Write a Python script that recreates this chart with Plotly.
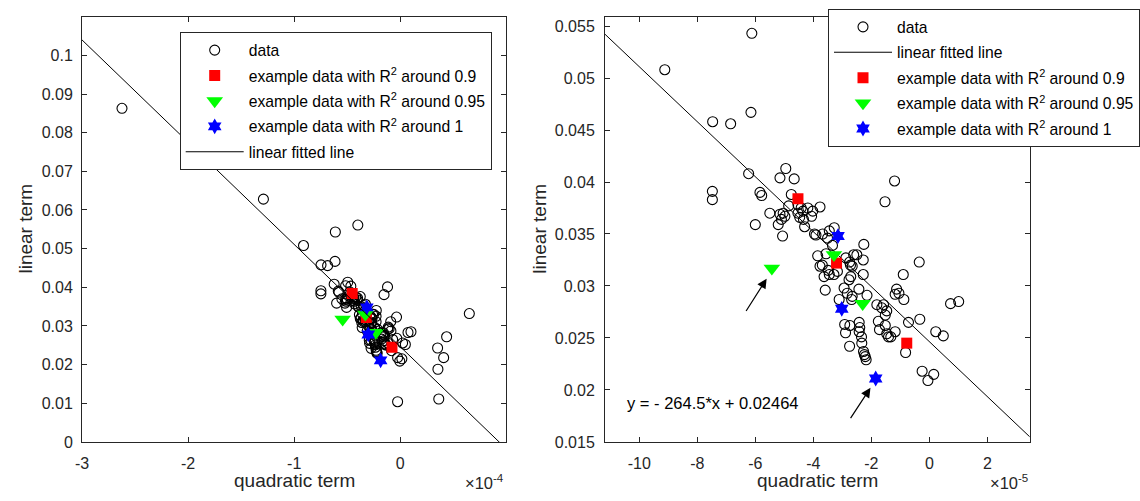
import numpy as np
import plotly.graph_objects as go

# ---------------- data (quadratic term in units of 1e-5) ----------------
quad_e5 = [
    -9.12, -6.12, -7.47, -6.85, -6.15, -6.23, -7.48, -7.48, -6.00,
    -4.95, -5.15, -4.66, -5.84, -5.78, -4.76, -5.50, -5.15, -5.04, -5.10, -4.98, -5.21, -5.06, -4.85,
    -4.53, -4.42, -4.53, -4.36, -4.19, -4.02, -3.77, -4.47, -4.34, -4.30, -3.96, -3.91, -4.06, -3.45, -3.28, -3.51, -3.34, -3.68,
    -3.85, -3.56, -3.69, -3.77, -3.49, -3.63, -3.29, -3.59, -3.45, -3.17,
    -2.88, -2.75, -2.61, -2.50, -2.28, -2.26, -2.72, -2.66, -2.28, -2.71, -2.77, -2.94, -2.83, -2.66, -2.43, -2.15, -3.11, -2.68,
    -1.81, -1.64, -1.58, -1.47, -1.52, -1.13, -1.18, -1.05, -0.88, -0.90, -0.35, -1.20, -1.53,
    -0.72, -0.33, -1.76, -1.72, -1.52, -1.47, -1.33, -1.18, -1.41, 0.22, 0.48, 0.73, 1.01, -0.82, -0.25, -0.05, 0.15,
    -2.92, -2.74, -2.89, -2.75, -2.42, -2.40, -2.42, -2.34, -2.33, -2.27, -2.21, -2.18, -2.24,
    -26.23, -13.27, -12.90, -4.00, 6.51, 3.52, 4.37, 4.09, 3.55, 3.63, -0.25,
]
linear_term = [
    0.0508, 0.0543, 0.0458, 0.0456, 0.0467, 0.0408, 0.0391, 0.0383, 0.0359,
    0.0413, 0.0404, 0.0403, 0.0390, 0.0387, 0.0388, 0.0370, 0.0369, 0.0370, 0.0364, 0.0367, 0.0359, 0.0348, 0.0377,
    0.0378, 0.0375, 0.0370, 0.0372, 0.0375, 0.0372, 0.0376, 0.0366, 0.0364, 0.0357, 0.0350, 0.0349, 0.0367, 0.0353, 0.0356, 0.0346, 0.0339, 0.0350,
    0.0329, 0.0331, 0.0320, 0.0319, 0.0315, 0.0309, 0.0311, 0.0296, 0.0311, 0.0314,
    0.0327, 0.0323, 0.0330, 0.0330, 0.0325, 0.0340, 0.0320, 0.0319, 0.0311, 0.0309, 0.0306, 0.0298, 0.0293, 0.0290, 0.0297, 0.0291, 0.0287, 0.0287,
    0.0282, 0.0279, 0.0282, 0.0276, 0.0272, 0.0297, 0.0292, 0.0293, 0.0287, 0.0311, 0.0323, 0.0401, 0.0381,
    0.0265, 0.0268, 0.0266, 0.0258, 0.0262, 0.0254, 0.0251, 0.0256, 0.0251, 0.0256, 0.0252, 0.0283, 0.0285, 0.0236, 0.0218, 0.0209, 0.0215,
    0.0263, 0.0262, 0.0255, 0.0242, 0.0265, 0.0260, 0.0256, 0.0251, 0.0245, 0.0237, 0.0232, 0.0229, 0.0234,
    0.0863, 0.0733, 0.0628, 0.0561, 0.0332, 0.0243, 0.0272, 0.0218, 0.0188, 0.0111, 0.0104,
]

ex90_quad_e5 = [-4.53, -3.20, -0.78]
ex90_lin = [0.0384, 0.0322, 0.0245]
ex95_quad_e5 = [-5.43, -3.29, -2.30]
ex95_lin = [0.0317, 0.0330, 0.0283]
ex100_quad_e5 = [-3.15, -3.02, -1.85]
ex100_lin = [0.0348, 0.0278, 0.0211]

fit_slope = -264.5
fit_intercept = 0.02464

left_xticks = [-3, -2, -1, 0]          # x 1e-4
left_yticks = [0, 0.01, 0.02, 0.03, 0.04, 0.05, 0.06, 0.07, 0.08, 0.09, 0.1]
right_xticks = [-10, -8, -6, -4, -2, 0, 2]   # x 1e-5
right_yticks = [0.015, 0.02, 0.025, 0.03, 0.035, 0.04, 0.045, 0.05, 0.055]

left_xrange = [-3e-4, 1e-4]
left_yrange = [0, 0.11]
right_xrange = [-11.18e-5, 3.46e-5]
right_yrange = [0.015, 0.0559]

# ---------------- geometry ----------------
W, H = 1140, 501
FONT = "Liberation Sans, Arial, Helvetica, sans-serif"
AX = "#262626"


def px(x):
    return x / W


def py(y):
    return 1 - y / H


qx = np.array(quad_e5) * 1e-5
ly = np.array(linear_term)
in_right = (qx >= right_xrange[0]) & (qx <= right_xrange[1]) & (ly >= right_yrange[0]) & (ly <= right_yrange[1])

fig = go.Figure()


def data_trace(x, y, xa, ya, leg):
    return go.Scatter(x=x, y=y, mode="markers", name="data", xaxis=xa, yaxis=ya, legend=leg, legendgroup=leg + "d",
                      marker=dict(symbol="circle-open", size=10, color="black", line=dict(width=1.1, color="black")))


def ex_traces(xa, ya, leg):
    return [
        go.Scatter(x=np.array(ex90_quad_e5) * 1e-5, y=ex90_lin, mode="markers", xaxis=xa, yaxis=ya, legend=leg,
                   legendgroup=leg + "r", name="example data with R<sup>2</sup> around 0.9",
                   marker=dict(symbol="square", size=11, color="#ff0000", line=dict(width=0))),
        go.Scatter(x=np.array(ex95_quad_e5) * 1e-5, y=ex95_lin, mode="markers", xaxis=xa, yaxis=ya, legend=leg,
                   legendgroup=leg + "g", name="example data with R<sup>2</sup> around 0.95",
                   marker=dict(symbol="triangle-down", size=14.5, color="#00ff00", line=dict(width=0))),
        go.Scatter(x=np.array(ex100_quad_e5) * 1e-5, y=ex100_lin, mode="markers", xaxis=xa, yaxis=ya, legend=leg,
                   legendgroup=leg + "b", name="example data with R<sup>2</sup> around 1",
                   marker=dict(symbol="hexagram", size=12, color="#0000ff", line=dict(width=0))),
    ]


def fit_trace(xr, xa, ya, leg):
    xs = np.array(xr)
    return go.Scatter(x=xs, y=fit_slope * xs + fit_intercept, mode="lines", name="linear fitted line",
                      xaxis=xa, yaxis=ya, legend=leg, legendgroup=leg + "l", line=dict(color="black", width=1))


# left panel: data, examples, line
fig.add_trace(data_trace(qx, ly, "x", "y", "legend"))
for t in ex_traces("x", "y", "legend"):
    fig.add_trace(t)
fig.add_trace(fit_trace(left_xrange, "x", "y", "legend"))

# right panel: data, line, examples
fig.add_trace(data_trace(qx[in_right], ly[in_right], "x2", "y2", "legend2"))
fig.add_trace(fit_trace(right_xrange, "x2", "y2", "legend2"))
for t in ex_traces("x2", "y2", "legend2"):
    fig.add_trace(t)

axis_common = dict(showline=True, linecolor=AX, linewidth=1, mirror="ticks", ticks="inside", ticklen=5,
                   tickcolor=AX, showgrid=False, zeroline=False,
                   tickfont=dict(family=FONT, size=16, color=AX))

plot_top, plot_bottom = 17, 450
legend_common = dict(xanchor="left", yanchor="top", bgcolor="white", bordercolor=AX, borderwidth=1,
                     font=dict(family=FONT, size=15.7, color="black"), itemwidth=58,
                     traceorder="grouped", tracegroupgap=2)
fig.update_layout(
    width=W, height=H, margin=dict(l=0, r=0, t=0, b=0),
    paper_bgcolor="white", plot_bgcolor="white",
    font=dict(family=FONT, color=AX),
    xaxis=dict(domain=[px(76), px(506)], range=left_xrange, anchor="y", ticklabelstandoff=7,
               tickvals=[v * 1e-4 for v in left_xticks], ticktext=[str(v) for v in left_xticks], **axis_common),
    yaxis=dict(domain=[py(plot_bottom), py(plot_top)], range=left_yrange, anchor="x", ticklabelstandoff=5,
               tickvals=left_yticks, ticktext=["0" if v == 0 else f"{v:g}" for v in left_yticks], **axis_common),
    xaxis2=dict(domain=[px(606), px(1036.4)], range=right_xrange, anchor="y2", ticklabelstandoff=7,
                tickvals=[v * 1e-5 for v in right_xticks], ticktext=[str(v) for v in right_xticks], **axis_common),
    yaxis2=dict(domain=[py(plot_bottom), py(plot_top)], range=right_yrange, anchor="x2", ticklabelstandoff=6,
                tickvals=right_yticks, ticktext=[f"{v:g}" for v in right_yticks], **axis_common),
    legend=dict(x=px(175), y=py(33), **legend_common),
    legend2=dict(x=px(832), y=py(9.3), **legend_common),
    showlegend=True,
)

ann_font = dict(family=FONT, size=19, color=AX)
annotations = [
    dict(text="quadratic term", x=px(291), y=py(489), xref="paper", yref="paper", xanchor="center",
         yanchor="middle", showarrow=False, font=ann_font),
    dict(text="quadratic term", x=px(821), y=py(489), xref="paper", yref="paper", xanchor="center",
         yanchor="middle", showarrow=False, font=ann_font),
    dict(text="linear term", x=px(19), y=py(233), xref="paper", yref="paper", xanchor="center",
         yanchor="middle", showarrow=False, textangle=-90, font=ann_font),
    dict(text="linear term", x=px(540), y=py(233), xref="paper", yref="paper", xanchor="center",
         yanchor="middle", showarrow=False, textangle=-90, font=ann_font),
    dict(text="×10<sup>-4</sup>", x=px(506), y=py(491), xref="paper", yref="paper", xanchor="right",
         yanchor="middle", showarrow=False, font=dict(family=FONT, size=16.5, color=AX)),
    dict(text="×10<sup>-5</sup>", x=px(1036.4), y=py(491), xref="paper", yref="paper", xanchor="right",
         yanchor="middle", showarrow=False, font=dict(family=FONT, size=16.5, color=AX)),
    dict(text="y = - 264.5*x + 0.02464", x=-10.48e-5, y=0.01871, xref="x2", yref="y2", xanchor="left",
         yanchor="middle", showarrow=False, font=dict(family=FONT, size=16.5, color="black")),
    dict(text="", x=-5.61e-5, y=0.0307, ax=-6.35e-5, ay=0.02745, xref="x2", yref="y2", axref="x2", ayref="y2",
         showarrow=True, arrowhead=2, arrowsize=1.6, arrowwidth=1.2, arrowcolor="black"),
    dict(text="", x=-2.03e-5, y=0.0202, ax=-2.75e-5, ay=0.01715, xref="x2", yref="y2", axref="x2", ayref="y2",
         showarrow=True, arrowhead=2, arrowsize=1.6, arrowwidth=1.2, arrowcolor="black"),
]
fig.update_layout(annotations=annotations)

fig.write_html("out.html", config={"displayModeBar": False},
               post_script="document.body.style.margin='0';document.body.style.overflow='hidden';")
